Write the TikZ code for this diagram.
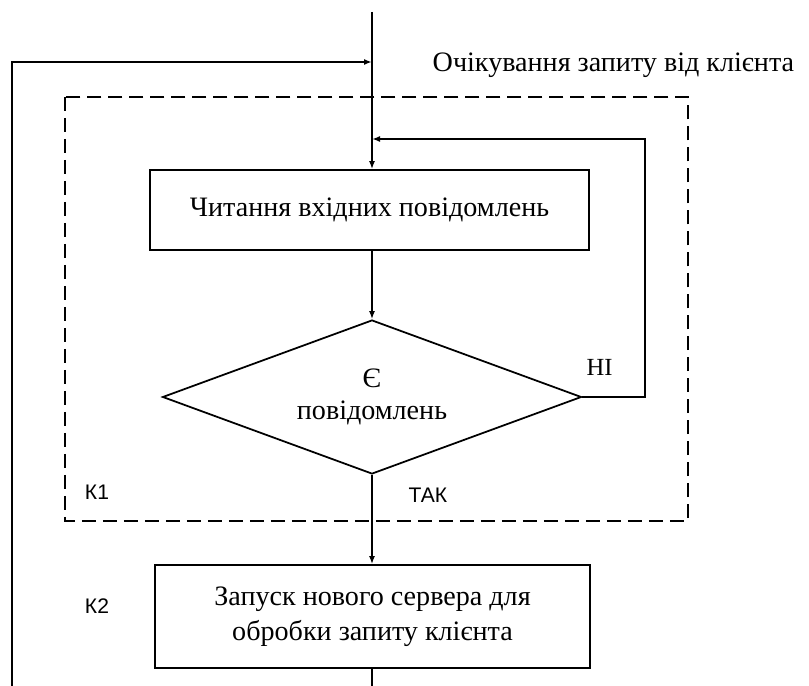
\documentclass[tikz,border=0pt]{standalone}
\usepackage{fontspec}
\setmainfont{Liberation Serif}
\setsansfont{Liberation Sans}
\usetikzlibrary{shapes.geometric,arrows.meta,positioning}

\begin{document}
\begin{tikzpicture}[
      x=0.02cm, y=-0.02cm,
      line width=1pt,
      box/.style={draw, align=center, inner sep=0pt, font=\fontsize{16}{20}\selectfont},
      decision/.style={draw, diamond, aspect=2.72, inner sep=0pt,
        minimum width=8.38cm, minimum height=3.08cm, align=center,
        font=\fontsize{16}{20}\selectfont},
      lbl/.style={font=\sffamily\fontsize{12}{14}\selectfont},
      arrow/.style={-{Latex[length=1.6mm,width=1.2mm]}}
    ]
    \useasboundingbox (0,0) rectangle (809,686);
    % blocks
    \node[box, minimum width=8.78cm, minimum height=1.6cm] (read) at (369.5,210)
      {Читання вхідних повідомлень};
    \node[decision] (msg) at (372,397) {Є\\[-2pt]повідомлень};
    \node[box, minimum width=8.7cm, minimum height=2.06cm] (start) at (372.5,616.5)
      {Запуск нового сервера для\\обробки запиту клієнта};
    % dashed frame K1
    \draw[dash pattern=on 0.28cm off 0.14cm] (65,97) rectangle (688,521);
    \node[lbl] (k1) at (97,492) {К1};
    \node[lbl] (k2) at (97,606) {К2};
    \node[font=\fontsize{16}{20}\selectfont, anchor=west] (wait) at (426,65)
      {Очікування запиту від клієнта};
    % connectors
    \coordinate (top) at (372,12);
    \coordinate (bot) at (372,686);
    \coordinate (ret) at (12,686);
    \coordinate (join) at (372,62);
    \coordinate (back) at (372,139);
    \draw[arrow] (top) -- (read.north -| top);
    \draw[arrow] (ret) |- (join);
    \draw[arrow] (read.south -| top) -- (msg.north);
    \draw[arrow] (msg.east) -- ++(63,0) |- (back);
    \draw[arrow] (msg.south) -- (start.north -| msg.south);
    \draw (start.south -| top) -- (bot);
    \node[font=\fontsize{14}{16}\selectfont, anchor=south west] (no) at (580,382) {НІ};
    \node[lbl, anchor=west] (yes) at (402,495) {ТАК};
\end{tikzpicture}
\end{document}
